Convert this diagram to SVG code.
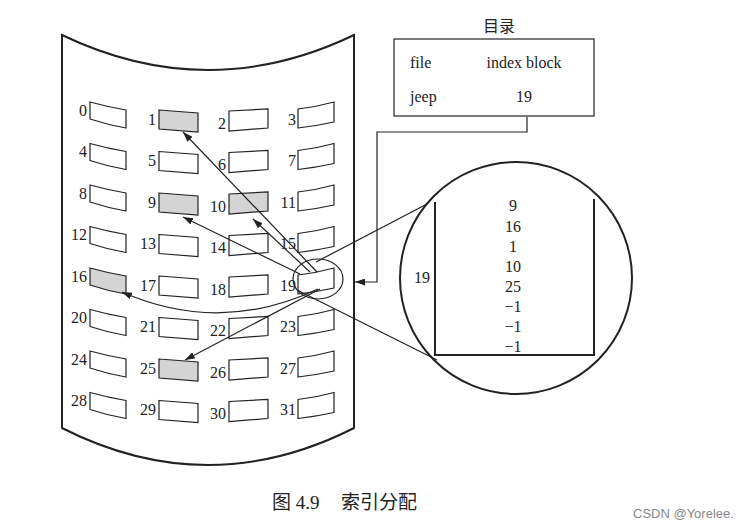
<svg xmlns="http://www.w3.org/2000/svg" xmlns:xlink="http://www.w3.org/1999/xlink" width="749" height="527" viewBox="0 0 749 527">
<style>
.bg{fill:#fff}
.out{fill:none;stroke:#222;stroke-width:2}
.blk{fill:#fff;stroke:#222;stroke-width:1.2}
.sh{fill:#d4d4d4;stroke:#222;stroke-width:1.2}
.num{font-family:"Liberation Serif",serif;font-size:16px;fill:#222}
.lbl{font-family:"Liberation Serif",serif;font-size:16px;fill:#222}
.cjk{font-family:"Liberation Serif","Noto Sans CJK SC",sans-serif;fill:#222}
.ln{fill:none;stroke:#222;stroke-width:1.2}
.ar{fill:none;stroke:#222;stroke-width:1.2;marker-end:url(#ah)}
.wm{font-family:"Liberation Sans",sans-serif;font-size:13px;fill:#888}
</style>
<defs>
<marker id="ah" viewBox="0 0 10 7" refX="10" refY="3.5" markerWidth="10" markerHeight="7" markerUnits="userSpaceOnUse" orient="auto"><path d="M0,0 L10,3.5 L0,7 Z" fill="#222"/></marker>
<path id="c0" d="M90,-8 Q108,-3 126,0 L126,18 Q108,15 90,9 Z"/>
<path id="c1" d="M159,0 L198,3 L198,22 L159,19 Z"/>
<path id="c2" d="M229,1 L268,-1 L268,18 L229,21 Z"/>
<path id="c3" d="M298,-1 Q316,-3 334,-8 L334,12 Q316,16 298,18 Z"/>
</defs>
<rect class="bg" x="0" y="0" width="749" height="527"/>
<g id="disk">
<path class="out" d="M62,35 Q208,105 354,35 L354,428 Q208,502 62,428 Z"/>
</g>
<g id="blocks">
<g id="b0"><use href="#c0" y="110" class="blk"/><text class="num" x="87" y="115.5" text-anchor="end">0</text></g>
<g id="b1"><use href="#c1" y="110" class="sh"/><text class="num" x="156" y="124.5" text-anchor="end">1</text></g>
<g id="b2"><use href="#c2" y="110" class="blk"/><text class="num" x="226" y="128.5" text-anchor="end">2</text></g>
<g id="b3"><use href="#c3" y="110" class="blk"/><text class="num" x="296" y="124.5" text-anchor="end">3</text></g>
<g id="b4"><use href="#c0" y="151.5" class="blk"/><text class="num" x="87" y="157" text-anchor="end">4</text></g>
<g id="b5"><use href="#c1" y="151.5" class="blk"/><text class="num" x="156" y="166" text-anchor="end">5</text></g>
<g id="b6"><use href="#c2" y="151.5" class="blk"/><text class="num" x="226" y="170" text-anchor="end">6</text></g>
<g id="b7"><use href="#c3" y="151.5" class="blk"/><text class="num" x="296" y="166" text-anchor="end">7</text></g>
<g id="b8"><use href="#c0" y="193" class="blk"/><text class="num" x="87" y="198.5" text-anchor="end">8</text></g>
<g id="b9"><use href="#c1" y="193" class="sh"/><text class="num" x="156" y="207.5" text-anchor="end">9</text></g>
<g id="b10"><use href="#c2" y="193" class="sh"/><text class="num" x="226" y="211.5" text-anchor="end">10</text></g>
<g id="b11"><use href="#c3" y="193" class="blk"/><text class="num" x="296" y="207.5" text-anchor="end">11</text></g>
<g id="b12"><use href="#c0" y="234.5" class="blk"/><text class="num" x="87" y="240" text-anchor="end">12</text></g>
<g id="b13"><use href="#c1" y="234.5" class="blk"/><text class="num" x="156" y="249" text-anchor="end">13</text></g>
<g id="b14"><use href="#c2" y="234.5" class="blk"/><text class="num" x="226" y="253" text-anchor="end">14</text></g>
<g id="b15"><use href="#c3" y="234.5" class="blk"/><text class="num" x="296" y="249" text-anchor="end">15</text></g>
<g id="b16"><use href="#c0" y="276" class="sh"/><text class="num" x="87" y="281.5" text-anchor="end">16</text></g>
<g id="b17"><use href="#c1" y="276" class="blk"/><text class="num" x="156" y="290.5" text-anchor="end">17</text></g>
<g id="b18"><use href="#c2" y="276" class="blk"/><text class="num" x="226" y="294.5" text-anchor="end">18</text></g>
<g id="b19"><use href="#c3" y="276" class="blk"/><text class="num" x="296" y="290.5" text-anchor="end">19</text></g>
<g id="b20"><use href="#c0" y="317.5" class="blk"/><text class="num" x="87" y="323" text-anchor="end">20</text></g>
<g id="b21"><use href="#c1" y="317.5" class="blk"/><text class="num" x="156" y="332" text-anchor="end">21</text></g>
<g id="b22"><use href="#c2" y="317.5" class="blk"/><text class="num" x="226" y="336" text-anchor="end">22</text></g>
<g id="b23"><use href="#c3" y="317.5" class="blk"/><text class="num" x="296" y="332" text-anchor="end">23</text></g>
<g id="b24"><use href="#c0" y="359" class="blk"/><text class="num" x="87" y="364.5" text-anchor="end">24</text></g>
<g id="b25"><use href="#c1" y="359" class="sh"/><text class="num" x="156" y="373.5" text-anchor="end">25</text></g>
<g id="b26"><use href="#c2" y="359" class="blk"/><text class="num" x="226" y="377.5" text-anchor="end">26</text></g>
<g id="b27"><use href="#c3" y="359" class="blk"/><text class="num" x="296" y="373.5" text-anchor="end">27</text></g>
<g id="b28"><use href="#c0" y="400.5" class="blk"/><text class="num" x="87" y="406" text-anchor="end">28</text></g>
<g id="b29"><use href="#c1" y="400.5" class="blk"/><text class="num" x="156" y="415" text-anchor="end">29</text></g>
<g id="b30"><use href="#c2" y="400.5" class="blk"/><text class="num" x="226" y="419" text-anchor="end">30</text></g>
<g id="b31"><use href="#c3" y="400.5" class="blk"/><text class="num" x="296" y="415" text-anchor="end">31</text></g>
</g>
<g id="highlight">
<ellipse class="ln" cx="318" cy="279" rx="25" ry="20"/>
</g>
<g id="directory">
<text class="cjk" x="499" y="32" font-size="16" text-anchor="middle">目录</text>
<rect class="blk" x="394" y="39" width="200" height="77"/>
<text class="lbl" x="410" y="68" font-size="16.5">file</text>
<text class="lbl" x="524" y="68" font-size="16.5" text-anchor="middle">index block</text>
<text class="lbl" x="410" y="102" font-size="16.5">jeep</text>
<text class="lbl" x="524" y="102" font-size="16.5" text-anchor="middle">19</text>
</g>
<g id="indexblock">
<circle class="out" cx="516" cy="278" r="116"/>
<path class="out" d="M435,202 L435,355 L594,355 L594,199"/>
<text class="lbl" x="422" y="283" text-anchor="middle">19</text>
<g class="lbl" text-anchor="middle">
<text x="513" y="210.5">9</text>
<text x="513" y="231.5">16</text>
<text x="513" y="251.5">1</text>
<text x="513" y="271.5">10</text>
<text x="513" y="291.5">25</text>
<text x="513" y="311.5">−1</text>
<text x="513" y="331.5">−1</text>
<text x="513" y="351.5">−1</text>
</g>
</g>
<g id="connectors">
<path class="ar" d="M317,272 L183,132"/>
<path class="ar" d="M310,272 L253,219"/>
<path class="ar" d="M300,274 L183,217"/>
<path class="ar" d="M318,289 Q220,335 122,292"/>
<path class="ar" d="M320,289 L185,360"/>
<path class="ln" d="M316,262 L427,204"/>
<path class="ln" d="M297,290 L437,360"/>
<path class="ar" d="M527,117 V132 H377 V282 H355"/>
</g>
<g id="caption">
<text class="cjk" x="272" y="509" font-size="19">图 4.9</text>
<text class="cjk" x="341" y="509" font-size="19">索引分配</text>
<text class="wm" x="633" y="518">CSDN @Yorelee.</text>
</g>
</svg>
